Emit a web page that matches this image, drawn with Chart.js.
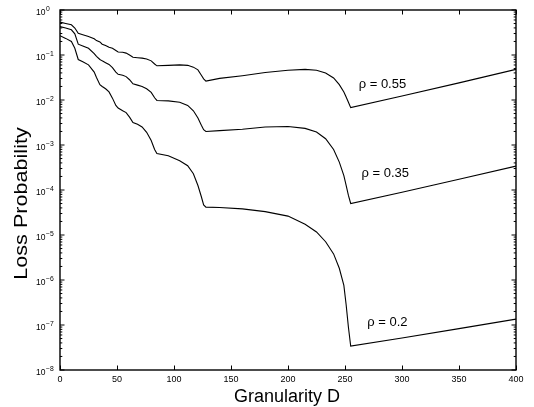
<!DOCTYPE html>
<html><head><meta charset="utf-8">
<script src="https://cdn.jsdelivr.net/npm/chart.js@4.4.0/dist/chart.umd.min.js"></script>
<style>html,body{margin:0;padding:0;background:#fff}#wrap{width:534px;height:407px;position:relative}</style>
</head><body><div id="wrap"><canvas id="c" width="534" height="407"></canvas></div>
<script>
// Granularity D sample positions (shared by all curves)
const granularityD = [0,5,10,13,16,20,25,30,32,35,37,40,43,46,49,51,55,58,61,64,68,72,76,80,83,85,95,105,112,117,121,124,126,128,140,160,180,200,215,225,233,240,245,249,251,253,255,300,350,400];
// Loss probability, rho = 0.55
const lossRho055 = [5.37e-1,5.01e-1,4.68e-1,3.98e-1,3.02e-1,2.82e-1,2.57e-1,2.29e-1,2.09e-1,1.95e-1,1.74e-1,1.62e-1,1.48e-1,1.41e-1,1.26e-1,1.17e-1,1.15e-1,1.10e-1,1.00e-1,8.91e-2,8.71e-2,8.51e-2,8.13e-2,7.41e-2,6.31e-2,5.75e-2,5.89e-2,6.03e-2,5.89e-2,5.37e-2,4.68e-2,3.55e-2,2.95e-2,2.63e-2,3.02e-2,3.47e-2,4.07e-2,4.57e-2,4.79e-2,4.57e-2,3.98e-2,3.09e-2,2.19e-2,1.51e-2,1.17e-2,8.91e-3,6.76e-3,1.23e-2,2.40e-2,4.79e-2];
// Loss probability, rho = 0.35
const lossRho035 = [4.27e-1,3.98e-1,3.63e-1,2.95e-1,1.74e-1,1.58e-1,1.41e-1,1.07e-1,9.33e-2,7.94e-2,7.41e-2,6.76e-2,6.17e-2,5.25e-2,4.17e-2,3.72e-2,3.55e-2,3.31e-2,2.82e-2,2.29e-2,2.14e-2,2.00e-2,1.78e-2,1.48e-2,1.12e-2,9.77e-3,9.55e-3,8.91e-3,7.59e-3,5.75e-3,3.98e-3,2.75e-3,2.19e-3,2.00e-3,2.09e-3,2.24e-3,2.51e-3,2.57e-3,2.34e-3,1.95e-3,1.38e-3,7.94e-4,4.17e-4,2.09e-4,1.26e-4,7.59e-5,5.01e-5,8.91e-5,1.74e-4,3.39e-4];
// Loss probability, rho = 0.2
const lossRho020 = [2.69e-1,2.34e-1,2.00e-1,1.41e-1,7.94e-2,7.08e-2,6.03e-2,4.17e-2,3.16e-2,2.19e-2,2.00e-2,1.78e-2,1.51e-2,1.10e-2,7.59e-3,6.61e-3,5.75e-3,5.25e-3,4.17e-3,3.16e-3,2.88e-3,2.51e-3,1.91e-3,1.26e-3,7.94e-4,6.46e-4,5.75e-4,4.47e-4,3.47e-4,2.29e-4,1.26e-4,7.08e-5,4.68e-5,4.17e-5,4.07e-5,3.80e-5,3.31e-5,2.63e-5,1.74e-5,1.17e-5,7.08e-6,3.80e-6,1.82e-6,7.59e-7,2.82e-7,8.91e-8,3.39e-8,5.13e-8,8.32e-8,1.35e-7];

const xTickValues = [0,50,100,150,200,250,300,350,400];
const yDecadeExponents = [0,-1,-2,-3,-4,-5,-6,-7,-8];
const curveLabels = ['\u03c1 = 0.55','\u03c1 = 0.35','\u03c1 = 0.2'];
const curveLabelD = [262,264.5,269.5];
const curveLabelLoss = [1.82e-2,1.91e-4,9.5e-8];
const xTitle = 'Granularity D';
const yTitle = 'Loss Probability';

const FONT = '"Liberation Sans", Arial, Helvetica, sans-serif';

function series(vals){ return granularityD.map((d,i)=>({x:d,y:vals[i]})); }
function ds(vals){ return {data:series(vals),borderColor:'#000',borderWidth:1.1,pointRadius:0,tension:0,fill:false}; }

const framePlugin = {
  id:'frame',
  afterDraw(chart){
    const {ctx, chartArea:a, scales:{x,y}} = chart;
    ctx.save();
    ctx.strokeStyle='#000'; ctx.fillStyle='#000';
    ctx.lineWidth=1;
    ctx.beginPath();
    // x ticks top & bottom (inward)
    xTickValues.forEach(v=>{
      const px=Math.round(x.getPixelForValue(v))+0.5;
      ctx.moveTo(px,a.bottom); ctx.lineTo(px,a.bottom-4.5);
      ctx.moveTo(px,a.top); ctx.lineTo(px,a.top+4.5);
    });
    // y ticks, major and minor, left & right (inward)
    yDecadeExponents.forEach(k=>{
      const py=y.getPixelForValue(Math.pow(10,k));
      ctx.moveTo(a.left,py); ctx.lineTo(a.left+4.5,py);
      ctx.moveTo(a.right,py); ctx.lineTo(a.right-4.5,py);
      if(k>-8){
        for(let m=2;m<=9;m++){
          const pm=y.getPixelForValue(m*Math.pow(10,k-1));
          ctx.moveTo(a.left,pm); ctx.lineTo(a.left+2.3,pm);
          ctx.moveTo(a.right,pm); ctx.lineTo(a.right-2.3,pm);
        }
      }
    });
    ctx.stroke();
    // box
    ctx.lineWidth=1.4;
    ctx.strokeRect(a.left,a.top,a.right-a.left,a.bottom-a.top);

    // y tick labels 10^k
    yDecadeExponents.forEach(k=>{
      const py=y.getPixelForValue(Math.pow(10,k));
      ctx.textBaseline='alphabetic';
      ctx.textAlign='right';
      ctx.font='8.5px '+FONT;
      ctx.save(); ctx.translate(a.left-14.5,py+5.2); ctx.scale(1,1.12); ctx.fillText('10',0,0); ctx.restore();
      ctx.textAlign='left';
      ctx.font='6.8px '+FONT;
      const ex = k===0 ? '0' : '\u2212'+String(-k);
      ctx.fillText(ex,a.left-14,py+0.5);
    });

    // curve labels
    ctx.font='13px '+FONT;
    ctx.textAlign='left'; ctx.textBaseline='alphabetic';
    curveLabels.forEach((t,i)=>{
      ctx.fillText(t,x.getPixelForValue(curveLabelD[i]),y.getPixelForValue(curveLabelLoss[i]));
    });

    // axis titles
    ctx.font='18px '+FONT;
    ctx.textAlign='center'; ctx.textBaseline='alphabetic';
    ctx.fillText(xTitle,(a.left+a.right)/2-1,401.5);
    ctx.save();
    ctx.translate(27,203.5);
    ctx.rotate(-Math.PI/2);
    ctx.scale(1.2,1);
    ctx.fillText(yTitle,0,0);
    ctx.restore();
    ctx.restore();
  }
};

new Chart(document.getElementById('c'),{
  type:'line',
  data:{datasets:[ds(lossRho055),ds(lossRho035),ds(lossRho020)]},
  options:{
    responsive:false, animation:false, devicePixelRatio:1,
    layout:{padding:{left:0,right:18,top:10,bottom:0}},
    plugins:{legend:{display:false},tooltip:{enabled:false}},
    scales:{
      x:{type:'linear',min:0,max:400,
         afterBuildTicks:s=>{s.ticks=xTickValues.map(v=>({value:v}));},
         afterFit:s=>{s.height=37;},
         grid:{display:false,drawTicks:false},border:{display:false},
         ticks:{padding:4,color:'#000',font:{family:FONT,size:9},maxRotation:0,autoSkip:false}},
      y:{type:'logarithmic',min:1e-8,max:1,
         afterFit:s=>{s.width=60;},
         grid:{display:false,drawTicks:false},border:{display:false},
         ticks:{display:false}}
    }
  },
  plugins:[framePlugin]
});
</script></body></html>
